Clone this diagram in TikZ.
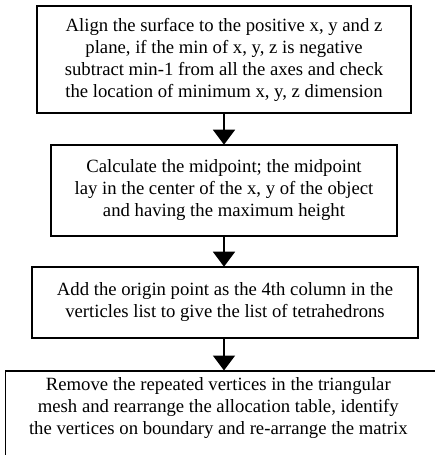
\documentclass[tikz,border=0pt]{standalone}
\usepackage{fontspec}
\setmainfont{Liberation Serif}
\usetikzlibrary{arrows.meta}
\begin{document}
\begin{tikzpicture}[x=1pt,y=1pt,
  stepbox/.style={draw=black, line width=1.6pt, align=center, inner sep=0pt,
    font=\fontsize{18.7}{22}\selectfont},
  flow/.style={line width=1.6pt, -{Triangle[length=15pt,width=22pt]}, shorten >=-0.5pt}]
\useasboundingbox (0,0) rectangle (434,-455);
\node[stepbox, minimum width=374, minimum height=107] (b1) at (224,-59.5)
  {Align the surface to the positive x, y and z\\plane, if the min of x, y, z is negative\\subtract min-1 from all the axes and check\\the location of minimum x, y, z dimension};
\node[stepbox, minimum width=346, minimum height=91] (b2) at (224,-190.5)
  {Calculate the midpoint; the midpoint\\lay in the center of the x, y of the object\\and having the maximum height};
\node[stepbox, minimum width=386, minimum height=71] (b3) at (225,-302.5)
  {Add the origin point as the 4th column in the\\verticles list to give the list of tetrahedrons};
\node[stepbox, anchor=north west, minimum width=452, inner ysep=7pt, text depth=40pt] (b4) at (4.5,-370)
  {\hspace*{-26pt}Remove the repeated vertices in the triangular\\\hspace*{-26pt}mesh and rearrange the allocation table, identify\\\hspace*{-26pt}the vertices on boundary and re-arrange the matrix};
\draw[flow] (b1.south -| 224,0) -- (b2.north -| 224,0);
\draw[flow] (b2.south -| 224,0) -- (b3.north -| 224,0);
\draw[flow] (b3.south -| 224,0) -- (b4.north -| 224,0);
\end{tikzpicture}
\end{document}
